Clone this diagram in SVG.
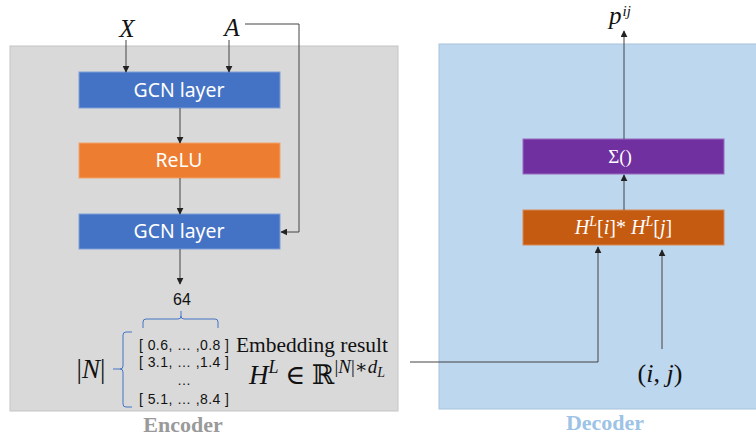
<svg xmlns="http://www.w3.org/2000/svg" width="756" height="439" viewBox="0 0 756 439">
  <defs>
    <marker id="arr" viewBox="0 0 10 10" refX="9" refY="5" markerWidth="7" markerHeight="7" markerUnits="userSpaceOnUse" orient="auto">
      <path d="M0,0 L10,5 L0,10 z" fill="#222"/>
    </marker>
    <style>
      .panel-enc { fill: #D9D9D9; stroke: #C4C4C4; stroke-width: 1; }
      .panel-dec { fill: #BDD7EE; stroke: #A8C3DC; stroke-width: 1; }
      .lbl { font-family: "Noto Sans", "Liberation Sans", sans-serif; fill: #fff; text-anchor: middle; }
      .math { font-family: "Liberation Serif", "DejaVu Serif", serif; fill: #111; }
      .wmath { font-family: "Liberation Serif", "DejaVu Serif", serif; fill: #fff; }
      .conn { stroke: #444; stroke-width: 1; fill: none; }
      .vec { font-family: "Liberation Sans", Arial, sans-serif; fill: #111; }
      .brace { stroke: #4472C4; stroke-width: 1; fill: none; }
      .title { font-family: "Liberation Serif", "Times New Roman", serif; font-weight: bold; text-anchor: middle; }
    </style>
  </defs>

  <!-- panels -->
  <rect class="panel-enc" x="10" y="46" width="388" height="365"/>
  <rect class="panel-dec" x="439" y="44" width="320" height="365"/>

  <!-- encoder nodes -->
  <g id="gcn1">
    <rect x="79" y="72" width="201" height="36" fill="#4472C4" stroke="#7F9FD8"/>
    <text class="lbl" x="179" y="96.5" font-size="19" textLength="91" lengthAdjust="spacingAndGlyphs">GCN layer</text>
  </g>
  <g id="relu">
    <rect x="79" y="143" width="201" height="35" fill="#ED7D31" stroke="#F2A46E"/>
    <text class="lbl" x="179" y="167" font-size="19" textLength="47" lengthAdjust="spacingAndGlyphs">ReLU</text>
  </g>
  <g id="gcn2">
    <rect x="79" y="214" width="201" height="35" fill="#4472C4" stroke="#7F9FD8"/>
    <text class="lbl" x="179" y="238" font-size="19" textLength="91" lengthAdjust="spacingAndGlyphs">GCN layer</text>
  </g>

  <g id="input-x">
    <text class="math" x="127" y="37" font-size="25" font-style="italic" text-anchor="middle">X</text>
  </g>
  <g id="input-a">
    <text class="math" x="232" y="36" font-size="25" font-style="italic" text-anchor="middle">A</text>
  </g>

  <!-- embedding matrix -->
  <g id="embedding">
    <text class="vec" x="182" y="305" font-size="16" text-anchor="middle">64</text>
    <path class="brace" d="M143,328 L143,322 Q143,319 146,319 L178,319 Q181,319 181,316 L181,311 M181,316 Q181,319 184,319 L215,319 Q218,319 218,322 L218,328"/>
    <path class="brace" d="M132,332 L126,332 Q123,332 123,335 L123,366 Q123,369 120,369 L113,369 M120,369 Q123,369 123,372 L123,404 Q123,407 126,407 L132,407"/>
    <text class="math" x="91" y="378" font-size="27" text-anchor="middle">|<tspan font-style="italic">N</tspan>|</text>
    <text class="vec" x="139" y="350" font-size="14" textLength="90" lengthAdjust="spacing">[ 0.6, … ,0.8 ]</text>
    <text class="vec" x="139" y="367" font-size="14" textLength="90" lengthAdjust="spacing">[ 3.1, … ,1.4 ]</text>
    <text class="vec" x="184" y="385" font-size="14" text-anchor="middle">…</text>
    <text class="vec" x="139" y="404" font-size="14" textLength="90" lengthAdjust="spacing">[ 5.1, … ,8.4 ]</text>
    <text x="236" y="352" font-family="Liberation Serif, Times New Roman, serif" font-size="21" fill="#111" textLength="152" lengthAdjust="spacingAndGlyphs">Embedding result</text>
    <text class="math" x="249" y="384" font-size="27"><tspan font-style="italic">H</tspan><tspan font-size="18" dy="-11" font-style="italic">L</tspan><tspan dy="11"> ∈ ℝ</tspan><tspan font-size="19" dy="-11">|</tspan><tspan font-size="19" font-style="italic">N</tspan><tspan font-size="19">|∗</tspan><tspan font-size="19" font-style="italic">d</tspan><tspan font-size="14" dy="4" font-style="italic">L</tspan></text>
  </g>

  <text class="title" x="183" y="432" font-size="22" fill="#9A9A9A">Encoder</text>

  <!-- decoder nodes -->
  <g id="sum">
    <rect x="523" y="139" width="201" height="35" fill="#7030A0" stroke="#9A6CC0"/>
    <text class="wmath" x="620" y="163" font-size="19" text-anchor="middle">Σ()</text>
  </g>
  <g id="product">
    <rect x="523" y="210" width="201" height="35" fill="#C55A11" stroke="#D88A55"/>
    <text class="wmath" x="623.5" y="234" font-size="20" text-anchor="middle"><tspan font-style="italic">H</tspan><tspan font-size="14" dy="-8" font-style="italic">L</tspan><tspan dy="8">[</tspan><tspan font-style="italic">i</tspan><tspan>]* </tspan><tspan font-style="italic">H</tspan><tspan font-size="14" dy="-8" font-style="italic">L</tspan><tspan dy="8">[</tspan><tspan font-style="italic">j</tspan><tspan>]</tspan></text>
  </g>
  <g id="output-p">
    <text class="math" x="609" y="24" font-size="25" font-style="italic">p<tspan font-size="15" dy="-8" dx="1">ij</tspan></text>
  </g>
  <g id="pair">
    <text class="math" x="660" y="382" font-size="26" text-anchor="middle">(<tspan font-style="italic">i</tspan>, <tspan font-style="italic">j</tspan>)</text>
  </g>

  <text class="title" x="605" y="430" font-size="22" fill="#9DC3E6">Decoder</text>

  <!-- connectors -->
  <g id="connectors">
    <line class="conn" x1="126" y1="40" x2="126" y2="72" marker-end="url(#arr)"/>
    <line class="conn" x1="229" y1="40" x2="229" y2="72" marker-end="url(#arr)"/>
    <polyline class="conn" points="245,24 299,24 299,232 281,232" marker-end="url(#arr)"/>
    <line class="conn" x1="180" y1="108" x2="180" y2="143" marker-end="url(#arr)"/>
    <line class="conn" x1="180" y1="178" x2="180" y2="214" marker-end="url(#arr)"/>
    <line class="conn" x1="180" y1="249" x2="180" y2="284" marker-end="url(#arr)"/>
    <polyline class="conn" points="410,362 598,362 598,247" marker-end="url(#arr)"/>
    <line class="conn" x1="662" y1="349" x2="662" y2="250" marker-end="url(#arr)"/>
    <line class="conn" x1="624" y1="210" x2="624" y2="175" marker-end="url(#arr)"/>
    <line class="conn" x1="624" y1="139" x2="624" y2="31" marker-end="url(#arr)"/>
  </g>
</svg>
